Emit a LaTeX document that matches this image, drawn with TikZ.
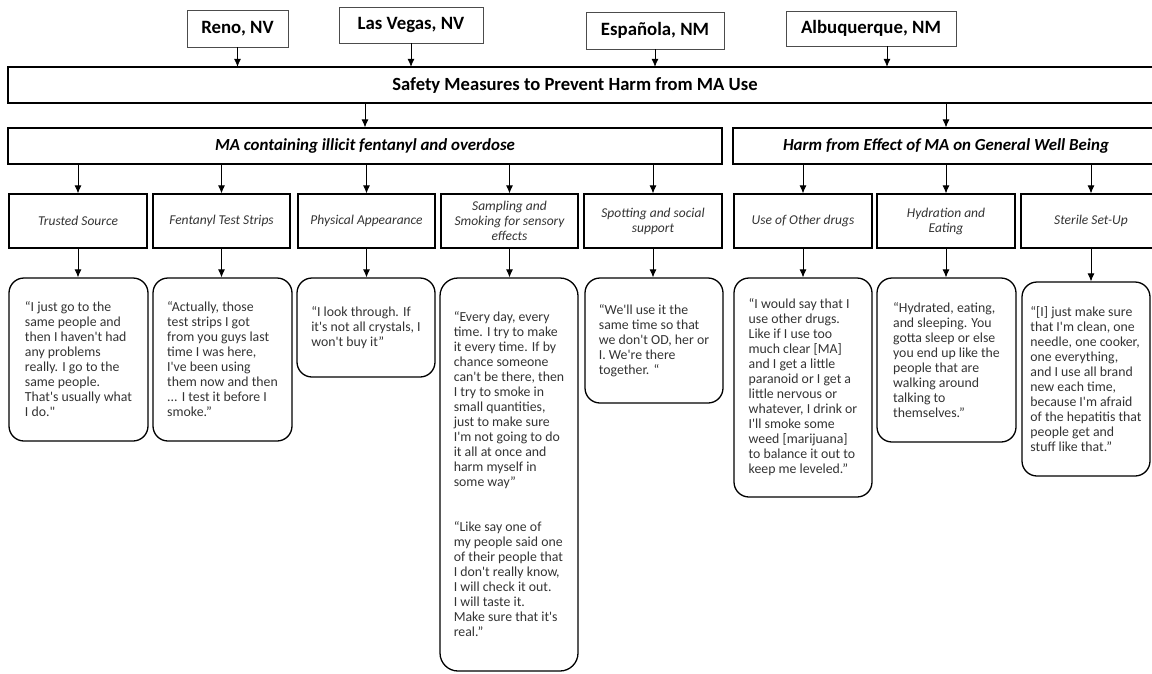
\documentclass[tikz,border=0pt]{standalone}
\usepackage{fontspec}
\setmainfont{Carlito}[Ligatures=TeXOff]
\usepackage{tikz}
\usetikzlibrary{
    arrows.meta,
    positioning
}

\tikzset{
    city/.style={draw=black!70, line width=0.8pt, inner sep=0pt,
        font=\bfseries\fontsize{18.8}{20}\selectfont},
    frame/.style={draw, line width=1.3pt},
    heading/.style={inner sep=0pt, minimum height=36pt,
        font=\bfseries\fontsize{18.6}{20}\selectfont},
    theme/.style={draw, line width=1.3pt, inner sep=0pt, minimum height=36pt,
        font=\bfseries\itshape\fontsize{16.9}{18}\selectfont},
    topic/.style={draw, line width=1.3pt, inner sep=0pt, align=center,
        minimum width=138pt, minimum height=54pt, text=black!80,
        font=\itshape\fontsize{13.5}{15}\selectfont},
    quotebox/.style={draw, line width=1.3pt, rounded corners=15pt, inner sep=0pt,
        align=left, minimum width=139pt, text=black!80,
        font=\fontsize{13.8}{15}\selectfont},
    link/.style={->, line width=0.8pt}
}

\begin{document}
\begin{tikzpicture}[x=1pt, y=-1pt, >={Latex[length=8pt,width=7pt]}]
    \useasboundingbox (0,0) rectangle (1152,673);

    % sites
    \node[city, minimum width=101pt, minimum height=37pt] (reno) at (237.5,28.5) {Reno, NV};
    \node[city, minimum width=144pt, minimum height=36pt] (lasvegas) at (411,25) {Las Vegas, NV};
    \node[city, minimum width=138pt, minimum height=37pt] (espanola) at (655,30.5) {Española, NM};
    \node[city, minimum width=170pt, minimum height=35pt] (albuquerque) at (871,28.5) {Albuquerque, NM};

    % main heading, box runs off the right edge
    \node[heading] (safety) at (575,85) {Safety Measures to Prevent Harm from MA Use};
    \draw[frame] (1152,67) -- (8,67) -- (8,103) -- (1152,103);

    % themes
    \node[theme, minimum width=714pt] (fentanyl) at (365,146) {MA containing illicit fentanyl and overdose};
    \node[theme, draw=none] (wellbeing) at (946,146) {Harm from Effect of MA on General Well Being};
    \draw[frame] (1152,128) -- (733,128) -- (733,164) -- (1152,164);

    % topics
    \node[topic] (trusted) at (78,221) {Trusted Source};
    \node[topic, minimum width=137pt] (strips) at (221.5,221) {Fentanyl Test Strips};
    \node[topic, minimum width=137pt] (appearance) at (366.5,221) {Physical Appearance};
    \node[topic, minimum width=137pt] (sampling) at (509.5,221) {Sampling and\\Smoking for sensory\\effects};
    \node[topic] (spotting) at (653,221) {Spotting and social\\support};
    \node[topic] (otherdrugs) at (803,221) {Use of Other drugs};
    \node[topic] (hydration) at (946,221) {Hydration and\\Eating};
    \node[topic, draw=none] (sterile) at (1091,221) {Sterile Set-Up};
    \draw[frame] (1152,194) -- (1021,194) -- (1021,248) -- (1152,248);

    % quotes
    \node[quotebox, minimum height=163pt] (q-trusted) at (78.5,359.5)
        {“I just go to the\\same people and\\then I haven't had\\any problems\\really. I go to the\\same people.\\That's usually what\\I do."};
    \node[quotebox, minimum height=163pt] (q-strips) at (222.5,359.5)
        {“Actually, those\\test strips I got\\from you guys last\\time I was here,\\I've been using\\them now and then\\... I test it before I\\smoke.”};
    \node[quotebox, minimum width=138pt, minimum height=99pt] (q-appearance) at (366,327.5)
        {“I look through. If\\it's not all crystals, I\\won't buy it”};
    \node[quotebox, minimum width=138pt, minimum height=393pt, rounded corners=18pt] (q-sampling) at (509,474.5)
        {“Every day, every\\time. I try to make\\it every time. If by\\chance someone\\can't be there, then\\I try to smoke in\\small quantities,\\just to make sure\\I'm not going to do\\it all at once and\\harm myself in\\some way”\\[30pt]“Like say one of\\my people said one\\of their people that\\I don't really know,\\I will check it out.\\I will taste it.\\Make sure that it's\\real.”};
    \node[quotebox, minimum width=138pt, minimum height=125pt] (q-spotting) at (654,340.5)
        {“We'll use it the\\same time so that\\we don't OD, her or\\I. We're there\\together. “};
    \node[quotebox, minimum width=138pt, minimum height=219pt] (q-otherdrugs) at (803,387.5)
        {“I would say that I\\use other drugs.\\Like if I use too\\much clear [MA]\\and I get a little\\paranoid or I get a\\little nervous or\\whatever, I drink or\\I'll smoke some\\weed [marijuana]\\to balance it out to\\keep me leveled.”};
    \node[quotebox, minimum height=164pt] (q-hydration) at (946.5,360)
        {“Hydrated, eating,\\and sleeping. You\\gotta sleep or else\\you end up like the\\people that are\\walking around\\talking to\\themselves.”};
    \node[quotebox, minimum width=128pt, minimum height=194pt] (q-sterile) at (1086,379)
        {“[I] just make sure\\that I'm clean, one\\needle, one cooker,\\one everything,\\and I use all brand\\new each time,\\because I'm afraid\\of the hepatitis that\\people get and\\stuff like that.”};

    % arrows
    \draw
    (reno) edge[link] (reno |- safety.north)
    (lasvegas) edge[link] (lasvegas |- safety.north)
    (espanola) edge[link] (espanola |- safety.north)
    ([xshift=16pt]albuquerque.south) edge[link] ([xshift=16pt]albuquerque.south |- safety.north)
    (safety.south -| fentanyl) edge[link] (fentanyl)
    (safety.south -| wellbeing) edge[link] (wellbeing);
    \foreach \t in {trusted, strips, appearance, sampling, spotting}
        \draw[link] (fentanyl.south -| \t) -- (\t.north);
    \foreach \t in {otherdrugs, hydration, sterile}
        \draw[link] (wellbeing.south -| \t) -- (\t.north);
    \foreach \t in {trusted, strips, appearance, sampling, spotting, otherdrugs, hydration, sterile}
        \draw[link] (\t.south) -- (\t.south |- q-\t.north);
\end{tikzpicture}
\end{document}
